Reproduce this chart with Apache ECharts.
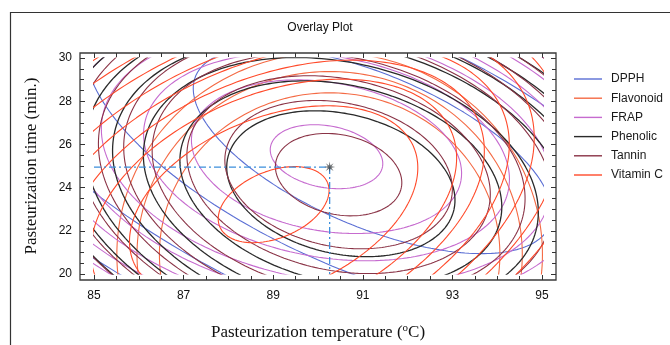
<!DOCTYPE html>
<html>
<head>
<meta charset="utf-8">
<title>Overlay Plot</title>
<script src="https://cdn.jsdelivr.net/npm/echarts@6/dist/echarts.min.js"></script>
<style>
  html, body { margin: 0; background: #fff; }
  #chart { width: 670px; height: 345px; }
</style>
</head>
<body>
<div id="chart"></div>
<script>
// axes
const temperatureTicks = [85, 87, 89, 91, 93, 95];
const timeTicks = [20, 22, 24, 26, 28, 30];

const responseNames = ["DPPH", "Flavonoid", "FRAP", "Phenolic", "Tannin", "Vitamin C"];
const responseColors = ["#5a6ed4", "#f46a44", "#c66bcf", "#2a2a2a", "#8a3346", "#ff4a2a"];

// contour families:
// centre [°C, min], shape [tilt deg, semi-axis a, semi-axis b] (in °C of screen length),
// levels = relative size of each drawn contour
const dpphCentre = [91.22, 25.7];
const dpphShape = [-23, 4.29, 1.7];
const dpphLevels = [1, 1.6, 2.3, 2.95];

const flavonoidCentre = [90.26, 20.9];
const flavonoidShape = [0, 1.0, 0.95];
const flavonoidLevels = [3.8, 4.3, 4.75];

const frapCentre = [90.19, 25.43];
const frapShape = [-10, 1.27, 0.69];
const frapLevels = [1, 2.4, 3.25, 4.0, 4.58, 5.1, 5.57, 6.0];

const phenolicCentre = [90.51, 24.18];
const phenolicShape = [-13, 2.59, 1.56];
const phenolicLevels = [1, 1.41, 1.73, 2.0, 2.24, 2.45, 2.65, 2.83];

const tanninCentre = [90.46, 24.6];
const tanninShape = [-12, 1.43, 0.89];
const tanninLevels = [1, 1.8, 2.4, 2.95, 3.4, 3.8, 4.15, 4.5, 4.8];

const vitaminCCentre = [89.01, 23.21];
const vitaminCShape = [22, 1.3, 0.75];
const vitaminCLevels = [1, 2.6, 3.3, 3.8, 4.25, 4.7, 5.2, 5.75, 6.3];

const optimum = [90.26, 24.95];

const families = [
  [dpphCentre, dpphShape, dpphLevels],
  [flavonoidCentre, flavonoidShape, flavonoidLevels],
  [frapCentre, frapShape, frapLevels],
  [phenolicCentre, phenolicShape, phenolicLevels],
  [tanninCentre, tanninShape, tanninLevels],
  [vitaminCCentre, vitaminCShape, vitaminCLevels],
];

const GRID = { left: 94, top: 58, width: 448, height: 216 };
const xMin = temperatureTicks[0], xMax = temperatureTicks[temperatureTicks.length - 1];
const yMin = timeTicks[0], yMax = timeTicks[timeTicks.length - 1];
// minutes per °C of equal screen length
const minPerDeg = (GRID.width / (xMax - xMin)) / (GRID.height / (yMax - yMin));

function contour(centre, shape, s) {
  const [tilt, a, b] = shape;
  const phi = tilt * Math.PI / 180;
  const pts = [];
  for (let i = 0; i <= 240; i++) {
    const t = (i / 240) * 2 * Math.PI;
    const u = s * a * Math.cos(t);
    const v = s * b * Math.sin(t);
    const dx = u * Math.cos(phi) - v * Math.sin(phi);
    const dy = u * Math.sin(phi) + v * Math.cos(phi);
    pts.push([centre[0] + dx, centre[1] + dy * minPerDeg]);
  }
  return pts;
}

const series = [];
families.forEach(([centre, shape, levels], k) => {
  levels.forEach((s) => {
    series.push({
      name: responseNames[k],
      type: "line",
      data: contour(centre, shape, s),
      symbol: "none",
      showSymbol: false,
      clip: true,
      silent: true,
      color: responseColors[k],
      lineStyle: { width: k === 3 ? 1.3 : 1.1, color: responseColors[k] },
    });
  });
});

const crossStyle = { width: 1.3, color: "#3d8fdc", type: [7, 3, 2, 3] };
series.push(
  {
    name: "opt-h",
    type: "line",
    data: [[xMin, optimum[1]], optimum],
    symbol: "none",
    silent: true,
    lineStyle: crossStyle,
    z: 5,
  },
  {
    name: "opt-v",
    type: "line",
    data: [optimum, [optimum[0], yMin]],
    symbol: "none",
    silent: true,
    lineStyle: crossStyle,
    z: 5,
  },
  {
    name: "optimum",
    type: "scatter",
    data: [optimum],
    symbol: "path://M0,-10 L1.3,-3.1 L7.1,-7.1 L3.1,-1.3 L10,0 L3.1,1.3 L7.1,7.1 L1.3,3.1 L0,10 L-1.3,3.1 L-7.1,7.1 L-3.1,1.3 L-10,0 L-3.1,-1.3 L-7.1,-7.1 L-1.3,-3.1 Z",
    symbolSize: 11,
    itemStyle: { color: "#404548" },
    silent: true,
    z: 6,
  }
);

const sans = "Liberation Sans";
const serif = "Liberation Serif";
const tickCol = "#333";

function xAxisOf(position, offset, labels) {
  return {
    type: "value", position, offset, min: xMin, max: xMax, interval: 2,
    axisLine: { show: false },
    axisTick: { show: true, inside: true, length: 5, lineStyle: { color: tickCol } },
    minorTick: { show: true, splitNumber: 4, length: 4, lineStyle: { color: tickCol } },
    splitLine: { show: false },
    minorSplitLine: { show: false },
    axisLabel: { show: labels, color: "#111", fontSize: 12, fontFamily: sans, margin: 10 },
  };
}
function yAxisOf(position, offset, labels) {
  return {
    type: "value", position, offset, min: yMin, max: yMax, interval: 2,
    axisLine: { show: false },
    axisTick: { show: true, inside: true, length: 5, lineStyle: { color: tickCol } },
    minorTick: { show: true, splitNumber: 4, length: 4, lineStyle: { color: tickCol } },
    splitLine: { show: false },
    minorSplitLine: { show: false },
    axisLabel: { show: labels, color: "#111", fontSize: 12, fontFamily: sans, margin: 8 },
  };
}

const xBottom = xAxisOf("bottom", 6, true);
xBottom.name = "Pasteurization temperature ({sup|o}C)";
xBottom.nameLocation = "middle";
xBottom.nameGap = 43;
xBottom.nameTextStyle = {
  fontFamily: serif, fontSize: 17, color: "#111",
  rich: { sup: { fontFamily: serif, fontSize: 11, verticalAlign: "top", padding: [0, 0, 8, 0] } },
};
const yLeft = yAxisOf("left", 14, true);
yLeft.name = "Pasteurization time (min.)";
yLeft.nameLocation = "middle";
yLeft.nameGap = 40;
yLeft.nameTextStyle = { fontFamily: serif, fontSize: 17, color: "#111" };

const chart = echarts.init(document.getElementById("chart"), null, { renderer: "canvas" });
chart.setOption({
  animation: false,
  backgroundColor: "#fff",
  grid: { ...GRID, containLabel: false, outerBoundsMode: "none" },
  xAxis: [xBottom, xAxisOf("top", 5, false)],
  yAxis: [yLeft, yAxisOf("right", 14, false)],
  legend: {
    data: responseNames,
    orient: "vertical",
    left: 574,
    top: 72,
    padding: 0,
    icon: "rect",
    itemWidth: 28,
    itemHeight: 1.4,
    itemGap: 5.2,
    textStyle: { fontFamily: sans, fontSize: 12, lineHeight: 14, color: "#1a1a1a", padding: [0, 0, 0, 4] },
    selectedMode: false,
  },
  graphic: [
    { type: "rect", shape: { x: 10.5, y: 12.5, width: 700, height: 400 }, style: { fill: "none", stroke: "#333", lineWidth: 1.2 }, silent: true },
    { type: "rect", shape: { x: 80, y: 53, width: 476, height: 227 }, style: { fill: "none", stroke: "#3a3a3a", lineWidth: 1.3 }, silent: true },
    { type: "text", x: 320, y: 28, style: { text: "Overlay Plot", align: "center", verticalAlign: "middle", fontSize: 12, fontFamily: sans, fill: "#111" }, silent: true },
  ],
  series,
});
</script>
</body>
</html>
